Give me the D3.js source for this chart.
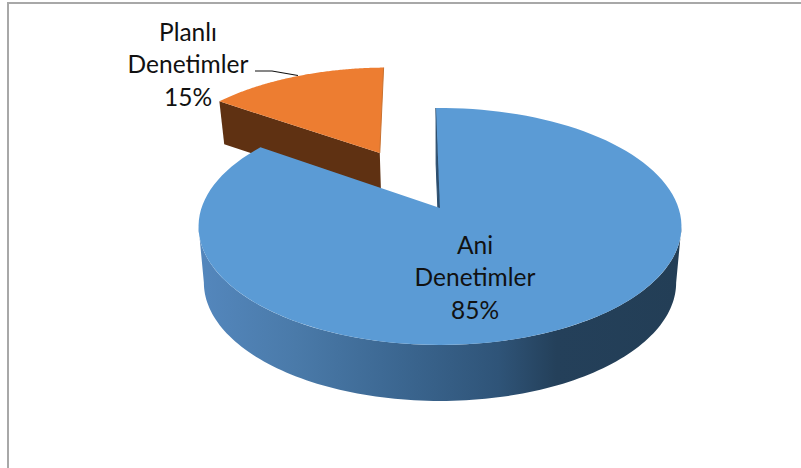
<!DOCTYPE html>
<html><head><meta charset="utf-8">
<script src="https://cdn.jsdelivr.net/npm/d3@7"></script>
<style>html,body{margin:0;padding:0;background:#fff}svg{display:block}text{font-family:Lato,"Open Sans",sans-serif;font-size:24.5px;fill:#111;text-anchor:middle}</style>
</head><body><svg id="c" width="801" height="468"></svg>
<script>
const categories = ["Ani Denetimler", "Planlı Denetimler"];
const values = [85, 15];
const percentLabels = ["85%", "15%"];
const labelLines = [["Ani", "Denetimler", "85%"], ["Planlı", "Denetimler", "15%"]];

const svg = d3.select("#c");
const W = 801, H = 468;
// projection of the tilted disc
const x0 = 440, y0 = 208, B = 238.5, A = 115.6, k = 0.156;
const cxB = 440.5, depthFactor = 0.978;
const startDeg = -1.1;
const explode = [0, 0.56];
const depths = [56, 43];
const orangeRadius = 0.985;

function project(u, v) {
  const w = 1 - k * v;
  return [x0 + B * u / w, y0 + A * v / w];
}
const pie = d3.pie().sort(null)
  .startAngle(startDeg * Math.PI / 180)
  .endAngle((startDeg + 360) * Math.PI / 180);
const arcs = pie(values);

function point(a, r, ex, ev) {
  return project(r * Math.sin(a) + ex, -r * Math.cos(a) + ev);
}
function lower(p, depth) {
  return [cxB + (p[0] - cxB) * depthFactor, p[1] + depth];
}
function rim(a0, a1, ex, ev, r = 1) {
  const n = 120;
  return d3.range(n + 1).map(i => point(a0 + (a1 - a0) * i / n, r, ex, ev));
}
const line = d3.line();

const defs = svg.append("defs");
const grad = defs.append("linearGradient").attr("id", "side")
  .attr("gradientUnits", "userSpaceOnUse")
  .attr("x1", 199).attr("x2", 682).attr("y1", 0).attr("y2", 0);
[[0, "#5487bd"], [0.2, "#4a7aa9"], [0.42, "#3b6690"], [0.62, "#2f5478"], [0.74, "#24405a"], [1, "#233e56"]]
  .forEach(s => grad.append("stop").attr("offset", s[0]).attr("stop-color", s[1]));

// frame
svg.append("path").attr("d", line([[8, H], [8, 3], [W, 3]]))
  .attr("fill", "none").attr("stroke", "#a8a8a8").attr("stroke-width", 2);

// orange slice (exploded, drawn first: the blue slice hides its lower part)
const o = arcs[1];
const mid = (o.startAngle + o.endAngle) / 2;
const oex = explode[1] * Math.sin(mid) - 0.009, oev = -explode[1] * Math.cos(mid) - 0.02;
const oApex = project(oex, oev);
const oLeft = point(o.startAngle, orangeRadius, oex, oev);
const oRim = rim(o.startAngle, o.endAngle, oex, oev, orangeRadius);
svg.append("path")
  .attr("d", line([oLeft, oApex, lower(oApex, depths[1]), lower(oLeft, depths[1])]) + "Z")
  .attr("fill", "#5f3112");
svg.append("path")
  .attr("d", line([oApex, ...oRim]) + "Z")
  .attr("fill", "#ed7d31");
svg.append("path")
  .attr("d", line([oRim[oRim.length - 1], oApex]))
  .attr("fill", "none").attr("stroke", "#c9712f").attr("stroke-width", 1);

// blue slice
const b = arcs[0];
const bex = explode[0], bev = 0;
const bApex = project(bex, bev);
const bStart = point(b.startAngle, 1, bex, bev);
// inner wall, almost edge-on
svg.append("path")
  .attr("d", line([bStart, bApex, lower(bApex, depths[0]), lower(bStart, depths[0])]) + "Z")
  .attr("fill", "#2c4e6e").attr("stroke", "#2c4e6e").attr("stroke-width", 1);
// outer wall
const frontRim = rim(99 * Math.PI / 180, 261 * Math.PI / 180, bex, bev);
svg.append("path")
  .attr("d", line([...frontRim, ...frontRim.slice().reverse().map(p => lower(p, depths[0]))]) + "Z")
  .attr("fill", "url(#side)");
svg.append("path")
  .attr("d", line([bApex, ...rim(b.startAngle, b.endAngle, bex, bev)]) + "Z")
  .attr("fill", "#5b9bd5");

// leader line
svg.append("path").attr("d", line([[255, 71], [272, 71], [298, 75.5]]))
  .attr("fill", "none").attr("stroke", "#111").attr("stroke-width", 1.2);

// labels
const labelPos = [[475, 254], [188, 41]];
labelLines.forEach((lines, i) => {
  const t = svg.append("text");
  lines.forEach((s, j) => t.append("tspan")
    .attr("x", labelPos[i][0]).attr("y", labelPos[i][1] + j * 32.3).text(s));
});
</script></body></html>
